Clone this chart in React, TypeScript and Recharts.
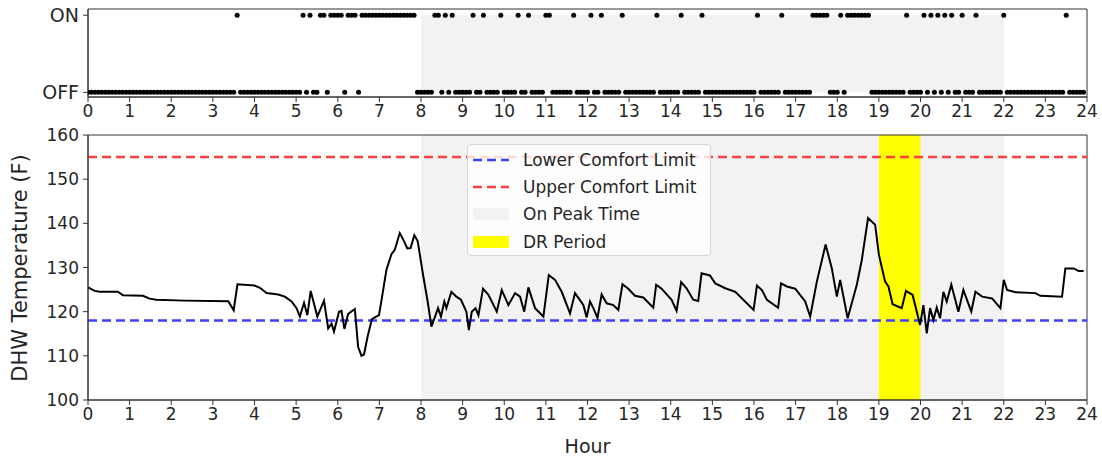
import React from 'react';
import {
  ComposedChart,
  ScatterChart,
  Scatter,
  Line,
  XAxis,
  YAxis,
  ReferenceArea,
  ReferenceLine,
} from 'recharts';

const hourTicks = [0, 1, 2, 3, 4, 5, 6, 7, 8, 9, 10, 11, 12, 13, 14, 15, 16, 17, 18, 19, 20, 21, 22, 23, 24];
const tempTicks = [100, 110, 120, 130, 140, 150, 160];
const lowerLimit = 118;
const upperLimit = 155;
const peakStart = 8;
const peakEnd = 22;
const drStart = 19;
const drEnd = 20;

// heater status, one char per 5-minute slot, one string per hour (1 = ON)
const statusByHour = [
  '000000000000', // 0
  '000000000000', // 1
  '000000000000', // 2
  '000000010000', // 3
  '000000000000', // 4
  '001010011011', // 5
  '110111011111', // 6
  '111111111110', // 7
  '000011010100', // 8
  '000100100001', // 9
  '000010010000', // 10
  '110000001000', // 11
  '010010000010', // 12
  '000000001000', // 13
  '000100000100', // 14
  '000000000000', // 15
  '010000001000', // 16
  '000001111100', // 17
  '010111111100', // 18
  '000000001000', // 19
  '010101010100', // 20
  '100010000000', // 21
  '100000000000', // 22
  '000000100000', // 23
];

// [hour, DHW temperature F]
const tempPoints: [number, number][] = [
  [0, 125.5], [0.16, 124.7], [0.28, 124.5], [0.72, 124.5], [0.84, 123.7], [1.32, 123.6],
  [1.48, 122.95], [1.64, 122.7], [2.32, 122.5], [3.37, 122.35], [3.5, 120.3], [3.59, 126.2],
  [4.0, 125.9], [4.13, 125.4], [4.29, 124.2], [4.57, 123.9], [4.73, 123.4], [4.89, 122.3],
  [5.01, 120.8], [5.09, 118.9], [5.19, 122.0], [5.27, 119.2], [5.35, 124.7], [5.51, 118.9],
  [5.67, 122.5], [5.77, 116.2], [5.85, 117.3], [5.91, 115.5], [6.03, 120], [6.09, 120.2],
  [6.16, 116.1], [6.25, 119.5], [6.41, 120.6], [6.49, 112], [6.57, 110], [6.63, 110.3],
  [6.72, 114.5], [6.82, 118.3], [6.99, 119.2], [7.05, 122.5], [7.17, 129.5], [7.29, 133],
  [7.37, 134], [7.49, 137.8], [7.6, 135.8], [7.67, 134.3], [7.75, 134.4], [7.84, 137.3],
  [7.92, 136], [8.05, 128.3], [8.16, 122.3], [8.25, 116.6], [8.35, 119.2], [8.41, 120.8],
  [8.48, 118.9], [8.56, 122.3], [8.61, 120.8], [8.73, 124.5], [8.85, 123.4], [8.96, 122.7],
  [9.09, 120], [9.15, 115.8], [9.22, 120], [9.31, 120.8], [9.38, 119.2], [9.49, 125.2],
  [9.62, 123.8], [9.82, 120], [9.94, 124.9], [10.1, 121.5], [10.26, 124.2], [10.38, 123.4],
  [10.48, 120], [10.58, 125.5], [10.74, 120.8], [10.94, 118.9], [11.07, 128.3], [11.22, 127.2],
  [11.38, 124.5], [11.58, 119.6], [11.7, 124.2], [11.9, 121.5], [11.98, 118.7], [12.06, 122.3],
  [12.14, 120.8], [12.24, 118.6], [12.34, 123.9], [12.46, 121.9], [12.62, 121.5], [12.74, 120.4],
  [12.84, 126.2], [12.98, 125.2], [13.14, 123.6], [13.34, 123.2], [13.58, 120.9], [13.65, 126.1],
  [13.78, 125.2], [14.02, 122.7], [14.14, 120.2], [14.25, 126.7], [14.38, 125.3], [14.54, 122.7],
  [14.66, 122.4], [14.74, 128.7], [14.94, 128.2], [15.07, 126.4], [15.31, 125.3], [15.55, 124.5],
  [15.99, 120.4], [16.07, 125.9], [16.19, 124.9], [16.31, 122.7], [16.58, 120.9], [16.65, 126.4],
  [16.79, 125.7], [16.99, 125.2], [17.23, 122.3], [17.35, 118.9], [17.51, 126.8], [17.72, 135.2],
  [17.87, 129.8], [17.99, 123.4], [18.07, 127.2], [18.25, 118.5], [18.47, 126.1], [18.59, 131.7],
  [18.74, 141.2], [18.91, 139.7], [19.0, 132.9], [19.15, 126.8], [19.23, 125.7], [19.33, 121.7],
  [19.55, 120.8], [19.65, 124.7], [19.81, 123.8], [19.99, 117], [20.07, 121.5], [20.15, 115.1],
  [20.23, 120.8], [20.31, 118.1], [20.39, 120.9], [20.47, 118.5], [20.55, 124.5], [20.63, 122.3],
  [20.74, 126.1], [20.91, 120], [21.03, 124.9], [21.22, 120], [21.32, 124.5], [21.48, 123.4],
  [21.72, 123], [21.92, 120.8], [22.0, 127.2], [22.08, 124.9], [22.28, 124.4], [22.76, 124.2],
  [22.88, 123.6], [23.4, 123.4], [23.48, 129.8], [23.68, 129.8], [23.8, 129.2], [23.92, 129.2],
];

const statusData = statusByHour.flatMap((s, h) =>
  s.split('').map((c, k) => ({ hour: h + k / 12, on: Number(c) }))
);
const tempData = tempPoints.map(([hour, temp]) => ({ hour, temp }));

const FONT = '"DejaVu Sans", sans-serif';
const AXIS = '#333';
const TEXT = '#262626';
const BLUE = '#4040ff';
const RED = '#ff4040';
const GRAY = '#f2f2f2';
const YELLOW = '#ffff00';

const Dot = (props: any) => <circle cx={props.cx} cy={props.cy} r={2.5} fill="#000" />;

const legendItems = [
  { label: 'Lower Comfort Limit', kind: 'line', color: BLUE },
  { label: 'Upper Comfort Limit', kind: 'line', color: RED },
  { label: 'On Peak Time', kind: 'patch', color: GRAY },
  { label: 'DR Period', kind: 'patch', color: YELLOW },
];

export default function App() {
  const tick = { fontSize: 17, fill: TEXT };
  return (
    <div style={{ position: 'absolute', left: 0, top: 0, width: 1102, height: 459, background: '#fff', fontFamily: FONT }}>
      <div style={{ position: 'absolute', left: 0, top: 0 }}>
        <ScatterChart width={1102} height={130} margin={{ top: 9, right: 15, bottom: 3, left: 0 }}>
          <XAxis
            type="number"
            dataKey="hour"
            domain={[0, 24]}
            ticks={hourTicks}
            interval={0}
            allowDataOverflow
            height={30}
            tickSize={5}
            tickMargin={3}
            stroke={AXIS}
            tick={tick}
          />
          <YAxis
            type="number"
            dataKey="on"
            domain={[-0.06, 1.08]}
            ticks={[0, 1]}
            allowDataOverflow
            width={88}
            tickSize={5}
            tickMargin={4}
            stroke={AXIS}
            tick={{ fontSize: 19, fill: TEXT }}
            tickFormatter={(v: number) => (v === 1 ? 'ON' : 'OFF')}
          />
          <ReferenceArea x1={peakStart} x2={peakEnd} y1={0} y2={1} fill={GRAY} fillOpacity={1} stroke="none" />
          <Scatter data={statusData} shape={Dot} isAnimationActive={false} />
          <ReferenceArea x1={0} x2={24} y1={-0.06} y2={1.08} fill="none" stroke={AXIS} strokeWidth={1} />
        </ScatterChart>
      </div>
      <div style={{ position: 'absolute', left: 0, top: 125 }}>
        <ComposedChart width={1102} height={334} data={tempData} margin={{ top: 10, right: 15, bottom: 29, left: 0 }}>
          <XAxis
            type="number"
            dataKey="hour"
            domain={[0, 24]}
            ticks={hourTicks}
            interval={0}
            allowDataOverflow
            height={30}
            tickSize={5}
            tickMargin={3}
            stroke={AXIS}
            tick={tick}
            label={{ value: 'Hour', position: 'bottom', offset: 10, style: { fontSize: 19, fill: TEXT } }}
          />
          <YAxis
            type="number"
            domain={[100, 160]}
            ticks={tempTicks}
            interval={0}
            allowDataOverflow
            width={88}
            tickSize={5}
            tickMargin={4}
            stroke={AXIS}
            tick={tick}
          />
          <ReferenceArea x1={peakStart} x2={peakEnd} y1={100} y2={160} fill={GRAY} fillOpacity={1} stroke="none" />
          <ReferenceArea x1={drStart} x2={drEnd} y1={100} y2={160} fill={YELLOW} fillOpacity={1} stroke="none" />
          <ReferenceLine y={lowerLimit} stroke={BLUE} strokeWidth={2.5} strokeDasharray="9 5" />
          <ReferenceLine y={upperLimit} stroke={RED} strokeWidth={2.5} strokeDasharray="9 5" />
          <Line type="linear" dataKey="temp" stroke="#000" strokeWidth={2} dot={false} isAnimationActive={false} />
          <ReferenceArea x1={0} x2={24} y1={100} y2={160} fill="none" stroke={AXIS} strokeWidth={1} />
        </ComposedChart>
      </div>
      <svg width={1102} height={459} style={{ position: 'absolute', left: 0, top: 0, pointerEvents: 'none' }}>
        <text
          transform="translate(20,268) rotate(-90)"
          textAnchor="middle"
          dominantBaseline="central"
          fontSize={21}
          fill={TEXT}
          fontFamily={FONT}
        >
          DHW Temperature (F)
        </text>
      </svg>
      <div
        style={{
          position: 'absolute',
          left: 467,
          top: 144,
          width: 242,
          height: 110,
          background: 'rgba(255,255,255,0.8)',
          border: '1px solid #d5d5d5',
          borderRadius: 4,
        }}
      >
        {legendItems.map((it, i) => (
          <div key={it.label} style={{ position: 'absolute', left: 5, top: 3 + i * 27.2, height: 24, display: 'flex', alignItems: 'center' }}>
            <svg width={36} height={14} style={{ display: 'block' }}>
              {it.kind === 'line' ? (
                <line x1={0} x2={36} y1={7} y2={7} stroke={it.color} strokeWidth={2.5} strokeDasharray="9 5" />
              ) : (
                <rect x={0} y={1} width={36} height={12} fill={it.color} />
              )}
            </svg>
            <span style={{ marginLeft: 14, fontSize: 17, color: TEXT, whiteSpace: 'nowrap' }}>{it.label}</span>
          </div>
        ))}
      </div>
    </div>
  );
}
